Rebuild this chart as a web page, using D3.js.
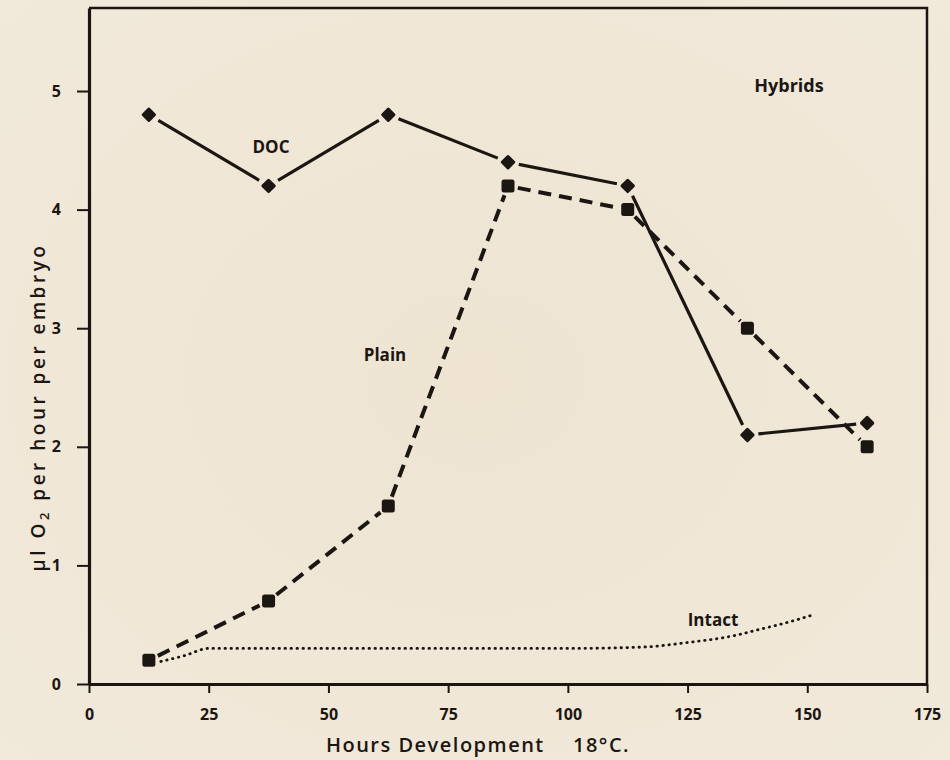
<!DOCTYPE html>
<html>
<head>
<meta charset="utf-8">
<script src="https://cdn.jsdelivr.net/npm/d3@7"></script>
<style>
  html, body { margin: 0; padding: 0; background: #efe5d4; }
  svg { display: block; }
  text { font-family: "Open Sans", "DejaVu Sans", sans-serif; fill: #1c1612; }
</style>
</head>
<body>
<svg id="chart" width="950" height="760"></svg>
<script>
// ---- data ----
const hours = [12.5, 37.5, 62.5, 87.5, 112.5, 137.5, 162.5];
const docValues = [4.8, 4.2, 4.8, 4.4, 4.2, 2.1, 2.2];
const plainValues = [0.2, 0.7, 1.5, 4.2, 4.0, 3.0, 2.0];
const intactHours = [15, 20, 25, 50, 75, 100, 115, 125, 135, 140, 145, 151];
const intactValues = [0.19, 0.24, 0.3, 0.3, 0.3, 0.3, 0.31, 0.35, 0.41, 0.46, 0.51, 0.58];
const xTicks = [0, 25, 50, 75, 100, 125, 150, 175];
const yTicks = [0, 1, 2, 3, 4, 5];

const ink = "#1c1612";
const svg = d3.select("#chart");

// background with slight vignette
const defs = svg.append("defs");
const rg = defs.append("radialGradient").attr("id", "bg").attr("cx", "50%").attr("cy", "50%").attr("r", "75%");
rg.append("stop").attr("offset", "0%").attr("stop-color", "#efe4d2");
rg.append("stop").attr("offset", "100%").attr("stop-color", "#f1e9db");
svg.append("rect").attr("width", 950).attr("height", 760).attr("fill", "url(#bg)");

const x = d3.scaleLinear().domain([0, 175]).range([89, 927]);
const y = d3.scaleLinear().domain([0, 5.7]).range([684, 8]);

// frame: top and right
svg.append("path")
  .attr("d", `M${x(0)},${y(5.7)} L${x(175)},${y(5.7)} L${x(175)},${y(0)}`)
  .attr("fill", "none").attr("stroke", ink).attr("stroke-width", 2.5);

// x axis
const xAxis = svg.append("g").attr("transform", `translate(0,${y(0)})`)
  .call(d3.axisBottom(x).tickValues(xTicks).tickFormat(d3.format("d")).tickSize(9).tickPadding(16).tickSizeOuter(0));
xAxis.select(".domain").attr("stroke", ink).attr("stroke-width", 3.2);
xAxis.selectAll(".tick line").attr("stroke", ink).attr("stroke-width", 2);
xAxis.selectAll(".tick text").attr("fill", ink)
  .style("font-family", "'Open Sans', sans-serif").style("font-size", "16px").style("font-weight", 700);

// y axis
const yAxis = svg.append("g").attr("transform", `translate(${x(0)},0)`)
  .call(d3.axisLeft(y).tickValues(yTicks).tickFormat(d3.format("d")).tickSize(12).tickPadding(16).tickSizeOuter(0));
yAxis.select(".domain").attr("stroke", ink).attr("stroke-width", 3.2);
yAxis.selectAll(".tick line").attr("stroke", ink).attr("stroke-width", 2);
yAxis.selectAll(".tick text").attr("fill", ink)
  .style("font-family", "'Open Sans', sans-serif").style("font-size", "16px").style("font-weight", 700);

// helper: segments with gaps near markers
function segments(xs, ys, gap) {
  const out = [];
  for (let i = 0; i < xs.length - 1; i++) {
    const x1 = x(xs[i]), y1 = y(ys[i]), x2 = x(xs[i + 1]), y2 = y(ys[i + 1]);
    const dx = x2 - x1, dy = y2 - y1, L = Math.hypot(dx, dy);
    const ux = dx / L, uy = dy / L;
    out.push([x1 + ux * gap, y1 + uy * gap, x2 - ux * gap, y2 - uy * gap]);
  }
  return out;
}

// Intact dotted curve
const intactLine = d3.line().x((d, i) => x(intactHours[i])).y(d => y(d)).curve(d3.curveMonotoneX);
svg.append("path").attr("d", intactLine(intactValues))
  .attr("fill", "none").attr("stroke", ink).attr("stroke-width", 2.8)
  .attr("stroke-linecap", "round").attr("stroke-dasharray", "0.5,5.5");

// Plain dashed
svg.append("g").selectAll("line").data(segments(hours, plainValues, 10)).join("line")
  .attr("x1", d => d[0]).attr("y1", d => d[1]).attr("x2", d => d[2]).attr("y2", d => d[3])
  .attr("stroke", ink).attr("stroke-width", 4).attr("stroke-dasharray", "13,8");

// DOC solid
svg.append("g").selectAll("line").data(segments(hours, docValues, 11)).join("line")
  .attr("x1", d => d[0]).attr("y1", d => d[1]).attr("x2", d => d[2]).attr("y2", d => d[3])
  .attr("stroke", ink).attr("stroke-width", 3.2);

// Plain squares
svg.append("g").selectAll("rect").data(plainValues).join("rect")
  .attr("x", (d, i) => x(hours[i]) - 6.5).attr("y", d => y(d) - 6.5)
  .attr("width", 13).attr("height", 13).attr("rx", 2.5)
  .attr("fill", ink);

// DOC diamonds
svg.append("g").selectAll("rect").data(docValues).join("rect")
  .attr("x", -5.5).attr("y", -5.5).attr("width", 11).attr("height", 11).attr("rx", 1.5)
  .attr("transform", (d, i) => `translate(${x(hours[i])},${y(d)}) rotate(45)`)
  .attr("fill", ink);

// annotations
const lab = (tx, ty, t, size) => svg.append("text").attr("x", tx).attr("y", ty)
  .attr("text-anchor", "middle").style("font-size", size + "px").style("font-weight", 700).text(t);
lab(271, 153, "DOC", 17);
lab(385, 361, "Plain", 17);
lab(789, 92, "Hybrids", 18);
lab(713, 626, "Intact", 17);

// axis titles
svg.append("text").attr("x", 478).attr("y", 752).attr("text-anchor", "middle")
  .style("font-size", "20px").style("font-weight", 600).style("letter-spacing", "1.5px")
  .text("Hours Development\u2003 18°C.");

const yt = svg.append("text").attr("transform", `translate(45,407) rotate(-90)`)
  .attr("text-anchor", "middle").style("font-size", "19px").style("font-weight", 600)
  .style("letter-spacing", "3.5px");
yt.append("tspan").text("µl O");
yt.append("tspan").attr("dy", 4).style("font-size", "13px").text("2");
yt.append("tspan").attr("dy", -4).text(" per hour per embryo");
</script>
</body>
</html>
